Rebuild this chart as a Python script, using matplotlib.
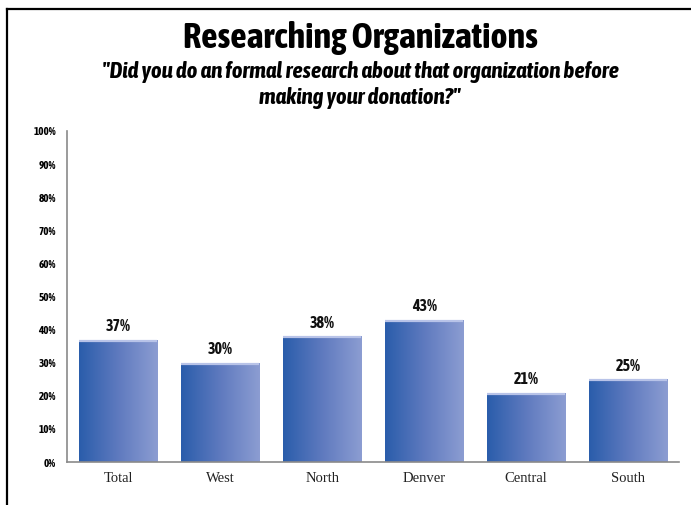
import numpy as np
import matplotlib
matplotlib.use("Agg")
import matplotlib.pyplot as plt
from matplotlib import font_manager
from matplotlib.colors import LinearSegmentedColormap
from matplotlib.lines import Line2D

regions = ["Total", "West", "North", "Denver", "Central", "South"]
shares = [0.37, 0.30, 0.38, 0.43, 0.21, 0.25]
value_labels = ["37%", "30%", "38%", "43%", "21%", "25%"]
y_ticks = [0.0, 0.1, 0.2, 0.3, 0.4, 0.5, 0.6, 0.7, 0.8, 0.9, 1.0]
y_tick_labels = ["0%", "10%", "20%", "30%", "40%", "50%", "60%", "70%", "80%", "90%", "100%"]


def _weight(f):
    w = f.weight
    if isinstance(w, str):
        w = font_manager.weight_dict.get(w, 400)
    return int(w)


# narrow family that also ships a bold face
_fonts = font_manager.fontManager.ttflist
_narrow_bold = sorted({f.name for f in _fonts
                       if ("Narrow" in f.name or "Condensed" in f.name) and _weight(f) >= 600})
NARROW = _narrow_bold[0] if _narrow_bold else "DejaVu Sans"
STRETCH = "condensed"

bar_cmap = LinearSegmentedColormap.from_list("barblue", ["#2a5dab", "#5f7abf", "#8c9dd2"])

fig = plt.figure(figsize=(6.91, 5.05), dpi=100)
ax = fig.add_axes([0.097, 0.0851, 0.886, 0.6555])

x = np.arange(len(regions))
bars = ax.bar(x, shares, width=0.765, color="none", edgecolor="none", zorder=2)

# horizontal gradient inside each bar, plus a light rim on top
grad = np.linspace(0, 1, 256).reshape(1, -1)
for rect, val in zip(bars, shares):
    x0 = rect.get_x()
    w = rect.get_width()
    im = ax.imshow(grad, cmap=bar_cmap, aspect="auto", extent=(x0, x0 + w, 0, val),
                   zorder=2, interpolation="bilinear")
    im.set_clip_path(rect)
    ax.plot([x0, x0 + w], [val - 0.003, val - 0.003], color="#b8c3e8", lw=1.6,
            solid_capstyle="butt", zorder=3)

for xi, val, lab in zip(x, shares, value_labels):
    ax.text(xi, val + 0.017, lab, ha="center", va="bottom", fontsize=11.5,
            fontweight="bold", family=NARROW, fontstretch=STRETCH, color="#111111")

ax.set_xlim(-0.5, len(regions) - 0.5)
ax.set_ylim(0, 1.0)
ax.set_yticks(y_ticks)
ax.set_yticklabels(y_tick_labels, fontsize=8, fontweight="bold", family=NARROW,
                   fontstretch=STRETCH)
ax.set_xticks(x)
ax.set_xticklabels(regions, fontsize=10.5, family="Liberation Serif", color="#222222")
ax.tick_params(axis="both", length=0)
ax.tick_params(axis="y", pad=8)
ax.tick_params(axis="x", pad=7)
for side in ("top", "right"):
    ax.spines[side].set_visible(False)
for side in ("left", "bottom"):
    ax.spines[side].set_color("#8a8a8a")
    ax.spines[side].set_linewidth(1.2)
ax.spines["bottom"].set_zorder(4)

fig.text(0.521, 0.925, "Researching Organizations", ha="center", va="center",
         fontsize=26, fontweight="bold", family=NARROW, fontstretch=STRETCH)
fig.text(0.521, 0.831, "\"Did you do an formal research about that organization before\n"
         "making your donation?\"", ha="center", va="center", fontsize=16.5,
         fontweight="bold", style="italic", family=NARROW, fontstretch=STRETCH,
         linespacing=1.22)

# page frame: top and left edges only
fig.add_artist(Line2D([0.0105, 1.0], [0.982, 0.982], color="black", lw=1.6,
                      transform=fig.transFigure))
fig.add_artist(Line2D([0.0105, 0.0105], [0.0, 0.982], color="black", lw=1.6,
                      transform=fig.transFigure))

fig.savefig("out.png", dpi=100)
